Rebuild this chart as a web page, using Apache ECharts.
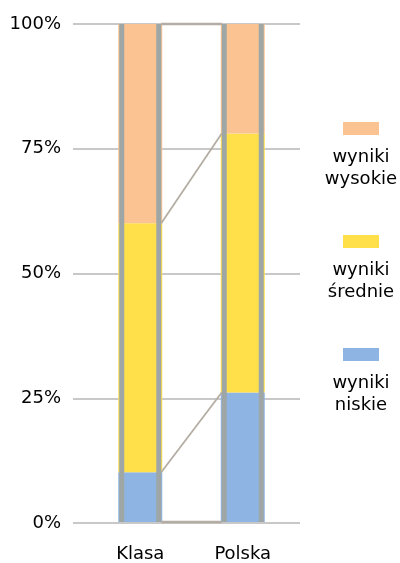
<!DOCTYPE html>
<html style="height: 100%;width: 100%">
<head>
    <meta charset="UTF-8">
    <script type="text/javascript" src="https://cdn.jsdelivr.net/npm/echarts@6/dist/echarts.min.js"></script>
    <title>wyniki</title>
    <style>
        body { margin: 0; background: #ffffff; }
    </style>
</head>
<body>
<div id="main" style="width: 400px;height:563px;"></div>
<script type="text/javascript">
    // dane
    var categories = ['Klasa', 'Polska'];
    var niskie = [10, 26];
    var srednie = [50, 52];
    var wysokie = [40, 22];
    var yTicks = ['0%', '25%', '50%', '75%', '100%'];
    var seriesNames = ['wyniki niskie', 'wyniki średnie', 'wyniki wysokie'];
    var colors = ['#8eb4e3', '#ffe04b', '#fac391'];

    var FONT = 'DejaVu Sans';
    var FS = 18;
    var stripColor = '#9ea7a5';
    var lineColor = '#b4ada3';
    var barW = 44;

    // sumy skumulowane (granice segmentow)
    var totals = categories.map(function (c, i) { return niskie[i] + srednie[i] + wysokie[i]; });
    var bounds = [
        [0, 0, 0],
        [0, niskie[0], niskie[1]],
        [0, niskie[0] + srednie[0], niskie[1] + srednie[1]],
        [0, totals[0], totals[1]]
    ];

    var myChart = echarts.init(document.getElementById('main'));

    var option = {
        animation: false,
        grid: [
            {left: 73, right: 100, top: 24, bottom: 40},
            {left: 89, right: 106, top: 24, bottom: 40}
        ],
        xAxis: [
            {gridIndex: 0, type: 'category', data: categories, show: false},
            {
                gridIndex: 1, type: 'category', data: categories,
                axisLine: {show: false}, axisTick: {show: false},
                axisLabel: {fontFamily: FONT, fontSize: FS, color: '#000', margin: 23}
            }
        ],
        yAxis: [
            {
                gridIndex: 0, type: 'value', min: 0, max: 100, interval: 25,
                axisLine: {show: false}, axisTick: {show: false},
                axisLabel: {
                    fontFamily: FONT, fontSize: FS, color: '#000', margin: 12,
                    formatter: function (v) { return yTicks[v / 25]; }
                },
                splitLine: {lineStyle: {color: '#c8c8c8', width: 2}}
            },
            {gridIndex: 1, type: 'value', min: 0, max: 100, show: false}
        ],
        legend: {
            orient: 'vertical',
            left: 311, top: 122,
            itemGap: 47,
            padding: 0,
            icon: 'none',
            itemWidth: 0, itemHeight: 0,
            data: [seriesNames[2], seriesNames[1], seriesNames[0]],
            formatter: function (name) {
                var i = seriesNames.indexOf(name);
                var parts = name.split(' ');
                return '{sp|}{b' + i + '|}\n{g|}\n{t|' + parts[0] + '}\n{t|' + parts[1] + '}';
            },
            textStyle: {
                rich: {
                    sp: {width: 27, height: 13},
                    b0: {width: 36, height: 13, backgroundColor: colors[0]},
                    b1: {width: 36, height: 13, backgroundColor: colors[1]},
                    b2: {width: 36, height: 13, backgroundColor: colors[2]},
                    g: {height: 11, lineHeight: 11},
                    t: {fontFamily: FONT, fontSize: FS, color: '#000', lineHeight: 22, width: 90, align: 'center'}
                }
            }
        },
        series: [
            {
                name: seriesNames[0], type: 'bar', stack: 'a', xAxisIndex: 1, yAxisIndex: 1,
                barWidth: barW, data: niskie, itemStyle: {color: colors[0]}
            },
            {
                name: seriesNames[1], type: 'bar', stack: 'a', xAxisIndex: 1, yAxisIndex: 1,
                barWidth: barW, data: srednie, itemStyle: {color: colors[1]}
            },
            {
                name: seriesNames[2], type: 'bar', stack: 'a', xAxisIndex: 1, yAxisIndex: 1,
                barWidth: barW, data: wysokie, itemStyle: {color: colors[2]}
            },
            {
                // szare boki slupkow
                type: 'custom', xAxisIndex: 1, yAxisIndex: 1, z: 5,
                data: categories.map(function (c, i) { return [i, totals[i]]; }),
                renderItem: function (params, api) {
                    var bottom = api.coord([api.value(0), 0]);
                    var top = api.coord([api.value(0), api.value(1)]);
                    var h = bottom[1] - top[1];
                    var x = top[0];
                    return {
                        type: 'group',
                        children: [
                            {type: 'rect', shape: {x: x - barW / 2 + 1, y: top[1], width: 5, height: h}, style: {fill: stripColor}},
                            {type: 'rect', shape: {x: x + barW / 2 - 6, y: top[1], width: 5, height: h}, style: {fill: stripColor}}
                        ]
                    };
                }
            },
            {
                // linie serii
                type: 'custom', xAxisIndex: 1, yAxisIndex: 1, z: 6,
                data: bounds,
                encode: {x: 0, y: 1},
                renderItem: function (params, api) {
                    var p0 = api.coord([0, api.value(1)]);
                    var p1 = api.coord([1, api.value(2)]);
                    var edge = params.dataIndex === 0 || params.dataIndex === bounds.length - 1;
                    return {
                        type: 'line',
                        shape: {x1: p0[0] + barW / 2 - 1, y1: p0[1], x2: p1[0] - barW / 2 + 1, y2: p1[1]},
                        style: {stroke: lineColor, lineWidth: edge ? 2.5 : 1.8}
                    };
                }
            }
        ]
    };

    myChart.setOption(option);
</script>
</body>
</html>
